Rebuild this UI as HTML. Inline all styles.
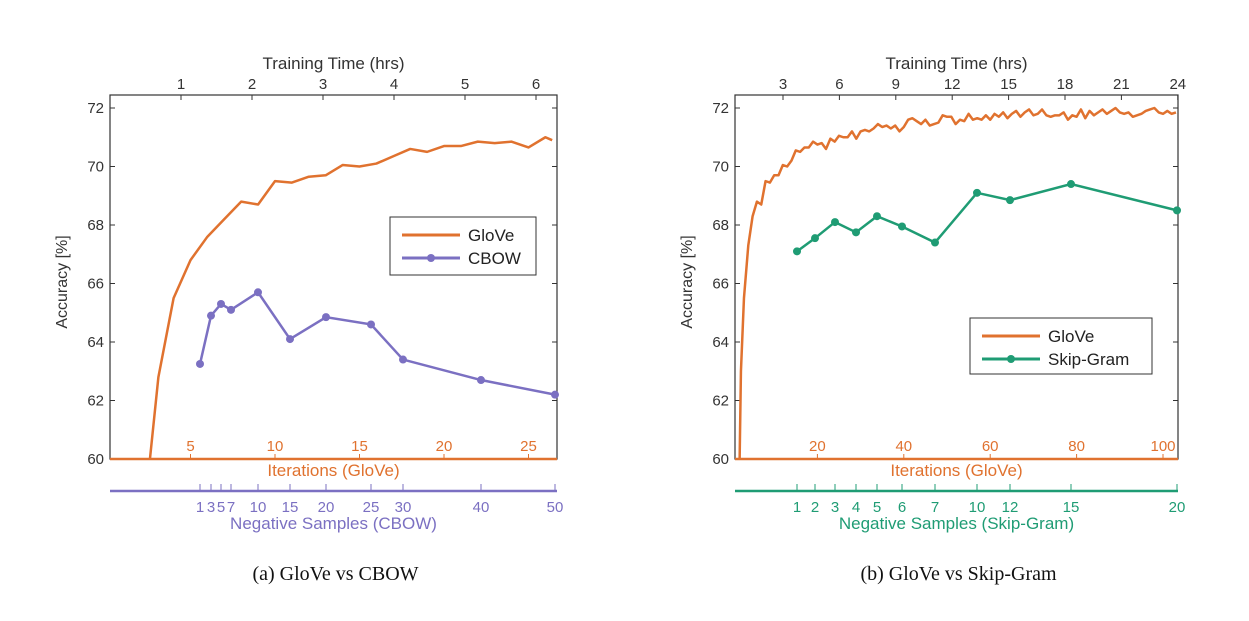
<!DOCTYPE html>
<html><head><meta charset="utf-8"><style>
body{margin:0;background:#fff;width:1249px;height:616px;overflow:hidden}
svg{font-family:"Liberation Sans",sans-serif}
</style></head><body>
<svg id="c" width="1249" height="616"></svg>
<script>
// ---- Panel A data ----
const aGloveIter=[2.6,3.1,4,5,6,7,8,9,10,11,12,13,14,15,16,17,18,19,20,21,22,23,24,25,26,26.4];
const aGloveAcc=[60,62.8,65.5,66.8,67.6,68.2,68.8,68.7,69.5,69.45,69.65,69.7,70.05,70.0,70.1,70.35,70.6,70.5,70.7,70.7,70.85,70.8,70.85,70.65,71.0,70.9];
const aNegLabels=["1","3","5","7","10","15","20","25","30","40","50"];
const aNegPos=[1,3,5,7,10,15,20,25,30,40,50];
const aCbowAcc=[63.25,64.9,65.3,65.1,65.7,64.1,64.85,64.6,63.4,62.7,62.2];
const aTimeTicks=[1,2,3,4,5,6];
const aIterTicks=[5,10,15,20,25];
// ---- Panel B data ----
const bGloveStartIter=[2,2.3];
const bGloveStartAcc=[60,63];
const bGloveAcc=[65.5,67.3,68.3,68.8,68.7,69.5,69.45,69.7,69.7,70.05,70.0,70.2,70.55,70.5,70.65,70.65,70.85,70.75,70.8,70.6,70.95,70.85,71.05,71.0,71.0,71.2,70.95,71.2,71.25,71.2,71.3,71.45,71.35,71.4,71.3,71.4,71.2,71.35,71.6,71.65,71.55,71.45,71.6,71.4,71.45,71.5,71.75,71.7,71.7,71.45,71.6,71.55,71.8,71.6,71.65,71.6,71.75,71.6,71.8,71.7,71.85,71.65,71.8,71.9,71.7,71.85,71.95,71.75,71.8,71.95,71.75,71.7,71.75,71.75,71.85,71.6,71.75,71.7,71.95,71.65,71.9,71.75,71.85,71.95,71.8,71.9,72.0,71.85,71.8,71.85,71.7,71.75,71.8,71.9,71.95,72.0,71.85,71.8,71.9,71.8,71.85];
const bNegLabels=["1","2","3","4","5","6","7","10","12","15","20"];
const bSkipAcc=[67.1,67.55,68.1,67.75,68.3,67.95,67.4,69.1,68.85,69.4,68.5];
const bTimeTicks=[3,6,9,12,15,18,21,24];
const bIterTicks=[20,40,60,80,100];
const yTicks=[60,62,64,66,68,70,72];

const svg=document.getElementById('c');
const NS='http://www.w3.org/2000/svg';
function mk(tag,attrs,parent){const e=document.createElementNS(NS,tag);for(const k in attrs)e.setAttribute(k,attrs[k]);(parent||svg).appendChild(e);return e;}
function txt(s,attrs,parent){const e=mk('text',attrs,parent);e.textContent=s;return e;}
const ORANGE='#e0722f',PURPLE='#7b70c2',GREEN='#1f9c74',AX='#333';
const yS=v=>459-(v-60)*(351/12);

function panel(o){
  const g=mk('g',{});
  
  
  const L=o.left,R=o.right;
  yTicks.forEach(v=>{
    const y=yS(v);
    mk('line',{x1:L,y1:y,x2:L+5,y2:y,stroke:AX,'stroke-width':1},g);
    mk('line',{x1:R,y1:y,x2:R-5,y2:y,stroke:AX,'stroke-width':1},g);
    const t=txt(String(v),{x:L-6,y:y+5,'text-anchor':'end','font-size':15,fill:AX},g);
    
    
  });
  const yl=txt('Accuracy [%]',{x:0,y:0,'font-size':16,fill:AX,'text-anchor':'middle',transform:`translate(${L-43},282) rotate(-90)`},g);
  
  
  o.timeTicks.forEach(h=>{
    const x=o.tx(h);
    mk('line',{x1:x,y1:95,x2:x,y2:100,stroke:AX},g);
    const t=txt(String(h),{x:x,y:89,'text-anchor':'middle','font-size':15,fill:AX},g);
    
    
  });
  const tt=txt('Training Time (hrs)',{x:(L+R)/2,y:69,'text-anchor':'middle','font-size':17,fill:AX},g);
  
  
  o.iterTicks.forEach(it=>{
    const x=o.ix(it);
    mk('line',{x1:x,y1:459,x2:x,y2:454,stroke:ORANGE},g);
    const t=txt(String(it),{x:x,y:451,'text-anchor':'middle','font-size':15,fill:ORANGE},g);
    
    
  });
  const it2=txt('Iterations (GloVe)',{x:(L+R)/2,y:476,'text-anchor':'middle','font-size':17,fill:ORANGE},g);
  
  
  const fr=mk('rect',{x:L,y:95,width:R-L,height:364,fill:'none',stroke:AX,'stroke-width':1.2},g);
  
  
  const gp=o.glove.map(p=>[o.ix(p[0]),yS(p[1])]).map(p=>p.join(',')).join(' ');
  const gl=mk('polyline',{points:gp,fill:'none',stroke:ORANGE,'stroke-width':2.5,'stroke-linejoin':'round'},g);
  
  
  mk('line',{x1:L,y1:459,x2:R,y2:459,stroke:ORANGE,'stroke-width':2.5},g);
  const nl=mk('line',{x1:L,y1:491,x2:R,y2:491,stroke:o.col,'stroke-width':2.5},g);
  
  
  const pts=[];
  o.negLabels.forEach((lab,i)=>{
    const x=o.nx(i);
    mk('line',{x1:x,y1:491,x2:x,y2:484,stroke:o.col},g);
    const t=txt(lab,{x:x,y:512,'text-anchor':'middle','font-size':15,fill:o.col},g);
    
    
    pts.push([x,yS(o.neg[i])]);
  });
  const nt=txt(o.negTitle,{x:(L+R)/2,y:529,'text-anchor':'middle','font-size':17,fill:o.col},g);
  
  
  const sl=mk('polyline',{points:pts.map(p=>p.join(',')).join(' '),fill:'none',stroke:o.col,'stroke-width':2.5},g);
  
  
  pts.forEach(p=>{
    const c=mk('circle',{cx:p[0],cy:p[1],r:4,fill:o.col},g);
    
    
  });
  const lg=mk('g',{},g);
  
  
  const [lx,ly,lw,lh]=o.legend;
  mk('rect',{x:lx,y:ly,width:lw,height:lh,fill:'#fff',stroke:AX,'stroke-width':1},lg);
  mk('line',{x1:lx+12,y1:ly+18,x2:lx+70,y2:ly+18,stroke:ORANGE,'stroke-width':3},lg);
  txt('GloVe',{x:lx+78,y:ly+24,'font-size':17,fill:'#222'},lg);
  mk('line',{x1:lx+12,y1:ly+41,x2:lx+70,y2:ly+41,stroke:o.col,'stroke-width':3},lg);
  mk('circle',{cx:lx+41,cy:ly+41,r:4,fill:o.col},lg);
  txt(o.legLabel,{x:lx+78,y:ly+47,'font-size':17,fill:'#222'},lg);
  const cap=txt(o.caption,{x:(L+R)/2+2,y:580,'text-anchor':'middle','font-size':20,fill:'#111','font-family':'"Liberation Serif",serif'},g);
  
  
}

const aNegPx=[200,211,221,231,258,290,326,371,403,481,555];
panel({name:'panel-glove-vs-cbow',left:110,right:557,
  tx:h=>110+h*71,ix:it=>106+it*16.9,
  timeTicks:aTimeTicks,iterTicks:aIterTicks,
  glove:aGloveIter.map((v,i)=>[v,aGloveAcc[i]]),
  negLabels:aNegLabels,neg:aCbowAcc,nx:i=>aNegPx[i],
  col:PURPLE,negTitle:'Negative Samples (CBOW)',serName:'cbow',legLabel:'CBOW',
  legend:[390,217,146,58],caption:'(a)  GloVe vs CBOW'});

const bNegPx=[797,815,835,856,877,902,935,977,1010,1071,1177];
const bGlove=bGloveStartIter.map((v,i)=>[v,bGloveStartAcc[i]]).concat(bGloveAcc.map((v,i)=>[3+i,v]));
panel({name:'panel-glove-vs-skipgram',left:735,right:1178,
  tx:h=>726.6+h*18.8,ix:it=>731+it*4.32,
  timeTicks:bTimeTicks,iterTicks:bIterTicks,
  glove:bGlove,
  negLabels:bNegLabels,neg:bSkipAcc,nx:i=>bNegPx[i],
  col:GREEN,negTitle:'Negative Samples (Skip-Gram)',serName:'skip-gram',legLabel:'Skip-Gram',
  legend:[970,318,182,56],caption:'(b)  GloVe vs Skip-Gram'});
</script>
</body></html>
